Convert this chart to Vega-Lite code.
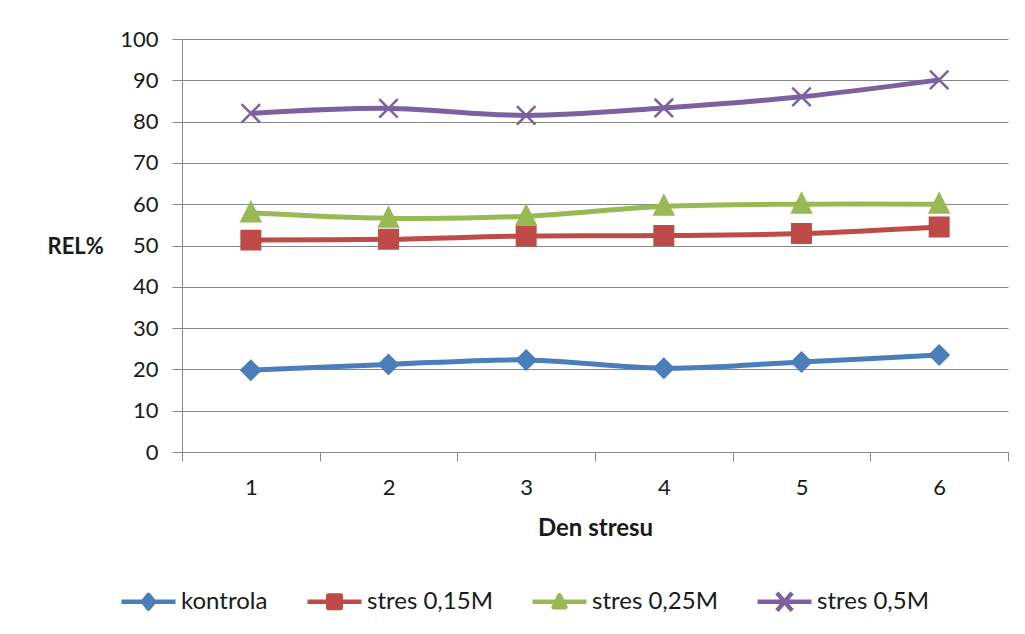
{
  "$schema": "https://vega.github.io/schema/vega-lite/v6.json",
  "width": 826,
  "height": 413,
  "autosize": {"type": "none"},
  "padding": {"left": 182, "top": 39, "right": 17, "bottom": 182},
  "background": "white",
  "config": {
    "view": {"stroke": null},
    "font": "Lato",
    "axis": {"labelFont": "Lato", "titleFont": "Lato", "labelColor": "#1a1a1a", "titleColor": "#1a1a1a"},
    "legend": {"labelFont": "Lato"}
  },
  "data": {
    "values": [
      {"day": "1", "series": "kontrola", "v": 19.8},
      {"day": "2", "series": "kontrola", "v": 21.2},
      {"day": "3", "series": "kontrola", "v": 22.3},
      {"day": "4", "series": "kontrola", "v": 20.3},
      {"day": "5", "series": "kontrola", "v": 21.8},
      {"day": "6", "series": "kontrola", "v": 23.5},
      {"day": "1", "series": "stres 0,15M", "v": 51.3},
      {"day": "2", "series": "stres 0,15M", "v": 51.5},
      {"day": "3", "series": "stres 0,15M", "v": 52.3},
      {"day": "4", "series": "stres 0,15M", "v": 52.4},
      {"day": "5", "series": "stres 0,15M", "v": 52.9},
      {"day": "6", "series": "stres 0,15M", "v": 54.5},
      {"day": "1", "series": "stres 0,25M", "v": 57.9},
      {"day": "2", "series": "stres 0,25M", "v": 56.6},
      {"day": "3", "series": "stres 0,25M", "v": 57.1},
      {"day": "4", "series": "stres 0,25M", "v": 59.5},
      {"day": "5", "series": "stres 0,25M", "v": 60.0},
      {"day": "6", "series": "stres 0,25M", "v": 60.0},
      {"day": "1", "series": "stres 0,5M", "v": 82.0},
      {"day": "2", "series": "stres 0,5M", "v": 83.2},
      {"day": "3", "series": "stres 0,5M", "v": 81.5},
      {"day": "4", "series": "stres 0,5M", "v": 83.3},
      {"day": "5", "series": "stres 0,5M", "v": 86.0},
      {"day": "6", "series": "stres 0,5M", "v": 90.1}
    ]
  },
  "encoding": {
    "x": {
      "field": "day",
      "type": "ordinal",
      "bandPosition": 0.5,
      "scale": {"type": "band", "paddingInner": 0, "paddingOuter": 0},
      "axis": {
        "title": "Den stresu",
        "labelAngle": 0,
        "labelFontSize": 22,
        "labelPadding": 16,
        "tickBand": "extent",
        "tickSize": 9,
        "tickColor": "#878787",
        "domainColor": "#878787",
        "grid": false,
        "titleFontSize": 24,
        "titleFontWeight": "bold",
        "titleY": 76,
        "titleBaseline": "middle"
      }
    },
    "y": {
      "field": "v",
      "type": "quantitative",
      "scale": {"domain": [0, 100], "nice": false},
      "axis": {
        "title": "REL%",
        "values": [0, 10, 20, 30, 40, 50, 60, 70, 80, 90, 100],
        "labelFontSize": 22,
        "labelPadding": 14,
        "tickSize": 10,
        "tickColor": "#878787",
        "domainColor": "#878787",
        "gridColor": "#878787",
        "gridOpacity": 1,
        "titleAngle": 0,
        "titleFontSize": 22,
        "titleFontWeight": "bold",
        "titleAlign": "left",
        "titleBaseline": "middle",
        "titleX": -135,
        "titleY": 207
      }
    }
  },
  "layer": [
    {
      "mark": {"type": "line", "strokeWidth": 5, "interpolate": "catmull-rom"},
      "encoding": {
        "color": {
          "field": "series",
          "type": "nominal",
          "scale": {
            "domain": ["kontrola", "stres 0,15M", "stres 0,25M", "stres 0,5M"],
            "range": ["#4A7EBB", "#BE4B48", "#98B954", "#7D60A0"]
          },
          "legend": {
            "title": null,
            "orient": "none",
            "direction": "horizontal",
            "columns": 4,
            "legendX": -63,
            "legendY": 533,
            "padding": 0,
            "labelFontSize": 24,
            "labelColor": "#1a1a1a",
            "labelOffset": 3,
            "columnPadding": 37,
            "symbolOffset": 0,
            "encode": {
              "symbols": {
                "update": {
                  "size": {"value": 2916},
                  "strokeWidth": {"value": 4.5},
                  "strokeJoin": {"value": "round"},
                  "opacity": {"value": 1},
                  "fill": {"scale": "color", "field": "value"},
                  "stroke": {"scale": "color", "field": "value"},
                  "shape": {"signal": "datum.value === 'kontrola' ? 'M-1,0L1,0M-0.2,0L0,-0.25L0.2,0L0,0.25Z' : datum.value === 'stres 0,15M' ? 'M-1,0L1,0M-0.23,-0.23L0.23,-0.23L0.23,0.23L-0.23,0.23Z' : datum.value === 'stres 0,25M' ? 'M-1,0L1,0M0,-0.24L0.22,0.2L-0.22,0.2Z' : 'M-1,0L1,0M-0.28,-0.33L0.28,0.33M-0.28,0.33L0.28,-0.33'"}
                }
              }
            }
          }
        }
      }
    },
    {
      "mark": {"type": "point", "filled": true, "opacity": 1, "size": 340, "strokeWidth": 2.5},
      "encoding": {
        "color": {
          "field": "series",
          "type": "nominal",
          "scale": {
            "domain": ["kontrola", "stres 0,15M", "stres 0,25M", "stres 0,5M"],
            "range": ["#4A7EBB", "#BE4B48", "#98B954", "#7D60A0"]
          },
          "legend": null
        },
        "shape": {
          "field": "series",
          "type": "nominal",
          "scale": {
            "domain": ["kontrola", "stres 0,15M", "stres 0,25M", "stres 0,5M"],
            "range": ["diamond", "square", "M0,-1.1L1,0.9L-1,0.9Z", "M-1,-1L1,1M-1,1L1,-1"]
          },
          "legend": null
        },
        "stroke": {
          "field": "series",
          "type": "nominal",
          "scale": {
            "domain": ["kontrola", "stres 0,15M", "stres 0,25M", "stres 0,5M"],
            "range": ["#4A7EBB", "#BE4B48", "#98B954", "#7D60A0"]
          },
          "legend": null
        }
      }
    }
  ],
  "resolve": {"legend": {"color": "independent", "shape": "independent", "stroke": "independent"}}
}
